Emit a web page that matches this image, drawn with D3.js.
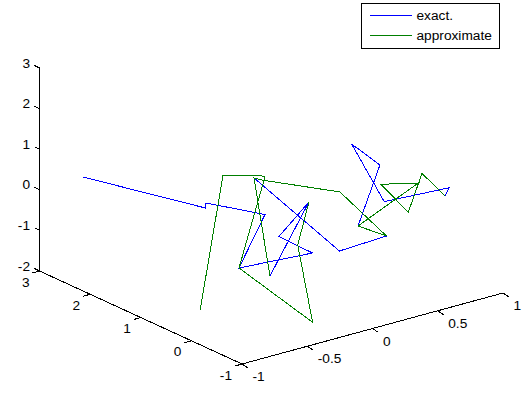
<!doctype html>
<html>
<head>
  <script src="https://d3js.org/d3.v7.min.js"></script>
</head>
<style>
  body {
    margin: 0;
    background: white;
  }

  svg {
    display: block;
  }

  svg text {
    fill: black;
    font: 13.7px "Liberation Sans", Arial, sans-serif;
    dominant-baseline: central;
  }

  svg line, svg path, svg rect {
    shape-rendering: crispEdges;
  }
</style>
<body>
<svg></svg>

<script>
  const width = 531, height = 394;

  // depth can't be read from a flat picture, so the curves sit on the plane y = 0
  const exactX = [-1.831, -0.892, -0.888, -0.436, -0.635, -0.072, -0.329, -0.099, -0.398, null,
    -0.520, 0.135, 0.495, 0.277, 0.445, 0.228, 0.478, 0.976, 0.943];
  const exactZ = [2.760, 1.175, 1.295, 0.616, -0.527, -0.650, -0.019, 0.630, -0.932, null,
    1.589, -0.782, -0.727, -0.290, 1.065, 1.772, 0.133, 0.042, -0.134];
  const approxX = [-0.932, -0.758, -0.474, -0.436, -0.635, -0.071, -0.185, -0.099, null,
    -0.398, -0.520, -0.459, 0.139, 0.495, 0.277, 0.739, 0.453, 0.662, 0.767, 0.943];
  const approxZ = [-1.290, 1.858, 1.611, 1.540, -0.527, -2.358, -0.354, 0.630, null,
    -0.932, 1.589, 1.486, 0.668, -0.727, -0.290, 0.365, 0.583, -0.289, 0.579, -0.134];

  const xTicks = [-1, -0.5, 0, 0.5, 1];
  const yTicks = [-1, 0, 1, 2, 3];
  const zTicks = [-2, -1, 0, 1, 2, 3];
  const legendLabels = ["exact.", "approximate"];
  const seriesColors = ["#0000ff", "#007f00"];

  // the corner (-1, -1, -2) on screen, each scale gives the offset from it
  const originX = 242, originY = 364;
  const xToH = d3.scaleLinear().domain([-1, 1]).range([0, 261]);
  const xToV = d3.scaleLinear().domain([-1, 1]).range([0, -71]);
  const yToH = d3.scaleLinear().domain([-1, 3]).range([0, -202.5]);
  const yToV = d3.scaleLinear().domain([-1, 3]).range([0, -93]);
  const zToV = d3.scaleLinear().domain([-2, 3]).range([0, -203]);

  function project(x, y, z) {
    return [originX + xToH(x) + yToH(y), originY + xToV(x) + yToV(y) + zToV(z)];
  }

  const svg = d3.select("svg")
    .attr("width", width)
    .attr("height", height);

  function addLine(p1, p2) {
    svg.append("line")
      .attr("x1", p1[0]).attr("y1", p1[1])
      .attr("x2", p2[0]).attr("y2", p2[1])
      .attr("stroke", "black");
  }

  function addLabel(p, text, anchor) {
    svg.append("text")
      .attr("x", p[0]).attr("y", p[1])
      .style("text-anchor", anchor)
      .text(text);
  }

  // axis lines
  addLine(project(-1, 3, -2), project(-1, 3, 3));
  addLine(project(-1, 3, -2), project(-1, -1, -2));
  addLine(project(-1, -1, -2), project(1, -1, -2));

  // ticks, each with its label offset
  zTicks.forEach(function (t) {
    const p = project(-1, 3, t);
    addLine([p[0] - 5, p[1] - 2.5], p);
    addLabel([p[0] - 9.5, p[1] - 5], t, "end");
  });
  yTicks.forEach(function (t) {
    const p = project(-1, t, -2);
    addLine([p[0] - 7, p[1] + 2], p);
    addLabel([p[0] - 10, p[1] + 11], t, "end");
  });
  xTicks.forEach(function (t) {
    const p = project(t, -1, -2);
    addLine(p, [p[0] + 6, p[1] + 4]);
    addLabel([p[0] + 10.5, p[1] + 12.5], t, "start");
  });

  // curves
  const line = d3.line()
    .defined(function (d) { return d[0] !== null; })
    .x(function (d) { return project(d[0], 0, d[1])[0]; })
    .y(function (d) { return project(d[0], 0, d[1])[1]; });

  [[exactX, exactZ], [approxX, approxZ]].forEach(function (s, i) {
    svg.append("path")
      .attr("d", line(d3.zip(s[0], s[1])))
      .attr("fill", "none")
      .attr("stroke", seriesColors[i]);
  });

  // legend
  svg.append("rect")
    .attr("x", 361.5).attr("y", 3.5)
    .attr("width", 138).attr("height", 45)
    .attr("fill", "white")
    .attr("stroke", "black");
  legendLabels.forEach(function (label, i) {
    const rowY = 15.5 + i * 20;
    svg.append("line")
      .attr("x1", 370).attr("x2", 412)
      .attr("y1", rowY).attr("y2", rowY)
      .attr("stroke", seriesColors[i]);
    addLabel([416.5, rowY], label, "start");
  });
</script>
</body>
</html>
